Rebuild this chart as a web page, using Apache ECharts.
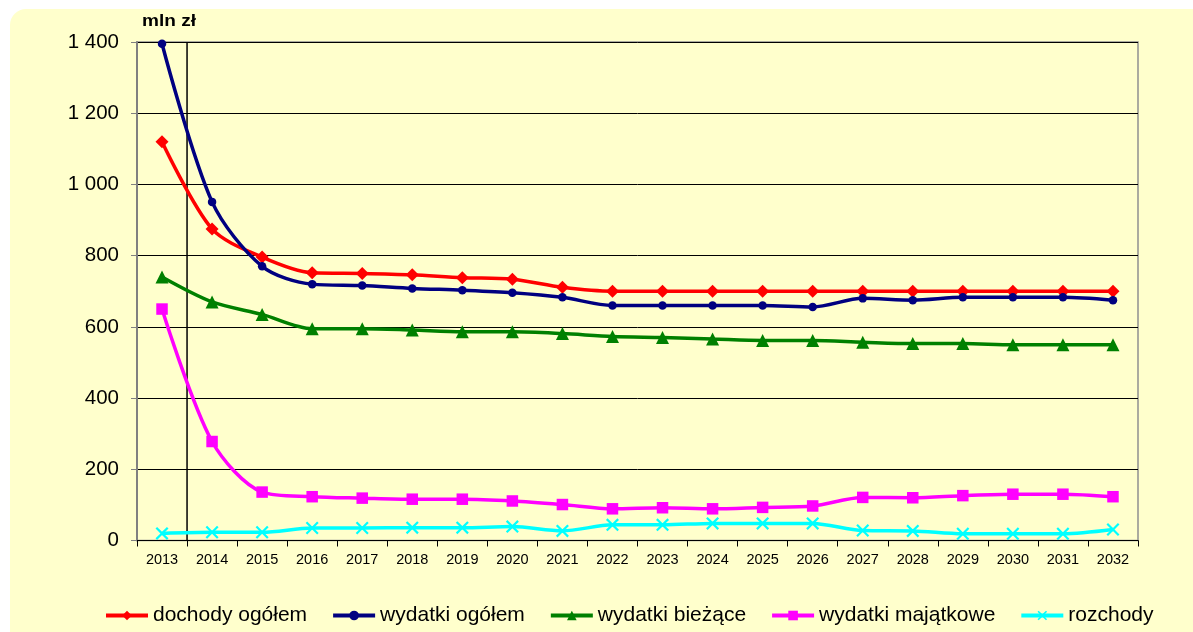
<!DOCTYPE html>
<html>
<head>
<meta charset="utf-8">
<script src="https://cdn.jsdelivr.net/npm/echarts@6/dist/echarts.min.js"></script>
<style>
html,body{margin:0;padding:0;background:#fff;}
#c{width:1193px;height:632px;}
</style>
</head>
<body>
<div id="c"></div>
<script>
const years = ['2013','2014','2015','2016','2017','2018','2019','2020','2021','2022','2023','2024','2025','2026','2027','2028','2029','2030','2031','2032'];
const dochodyOgolem = [1120, 875, 796, 752, 750, 746, 738, 734, 711, 700, 700, 700, 700, 700, 700, 700, 700, 700, 700, 700];
const wydatkiOgolem = [1395, 951, 770, 720, 716, 708, 703, 696, 683, 660, 660, 660, 660, 656, 680, 675, 683, 683, 683, 675];
const wydatkiBiezace = [740, 670, 635, 595, 595, 591, 586, 586, 581, 573, 570, 566, 562, 562, 557, 553, 553, 550, 550, 550];
const wydatkiMajatkowe = [650, 278, 136, 123, 119, 116, 116, 111, 101, 89, 92, 89, 93, 97, 121, 120, 126, 130, 130, 123];
const rozchody = [20, 23, 23, 35, 35, 36, 36, 39, 27, 44, 44, 48, 48, 48, 28, 27, 19, 19, 19, 31];
const yTicks = [0, 200, 400, 600, 800, 1000, 1200, 1400];
const markerLine = [[1, 0], [1, 1400]];

const crossPath = 'path://M0,1.2L1.2,0L5,3.8L8.8,0L10,1.2L6.2,5L10,8.8L8.8,10L5,6.2L1.2,10L0,8.8L3.8,5Z';
const FONT = '"Liberation Sans", Arial, sans-serif';

const chart = echarts.init(document.getElementById('c'));
function mk(name, data, color, symbol, size) {
  return {
    name: name, type: 'line', data: data, smooth: 0.3,
    symbol: symbol, symbolSize: size, showSymbol: true,
    lineStyle: {color: color, width: 3.5},
    itemStyle: {color: color},
    emphasis: {disabled: true},
    xAxisIndex: 0, yAxisIndex: 0
  };
}
chart.setOption({
  backgroundColor: '#ffffff',
  animation: false,
  graphic: [
    {type: 'rect', z: -10, silent: true, shape: {x: 10, y: 9, width: 1200, height: 640, r: 16}, style: {fill: '#FFFFCC'}},
    {type: 'text', left: 142, top: 13, style: {text: 'mln zł', font: 'bold 17px ' + FONT, fill: '#000'}, scaleX: 1.12}
  ],
  grid: {left: 137, right: 55, top: 42, bottom: 91.5, show: true, borderColor: '#909090', borderWidth: 1.5, backgroundColor: 'transparent'},
  legend: {
    data: ['dochody ogółem', 'wydatki ogółem', 'wydatki bieżące', 'wydatki majątkowe', 'rozchody'],
    top: 600, left: 99, itemWidth: 42, itemHeight: 12, itemGap: 24,
    lineStyle: {width: 4},
    textStyle: {fontSize: 21, color: '#000', fontFamily: FONT}
  },
  xAxis: [
    {
      type: 'category', data: years, boundaryGap: true,
      axisLine: {lineStyle: {color: '#000', width: 1}},
      axisTick: {show: true, length: 6, lineStyle: {color: '#000'}},
      axisLabel: {fontSize: 14.5, color: '#000', margin: 12, fontFamily: FONT, interval: 0},
      splitLine: {show: false}
    },
    {type: 'value', min: 0, max: 20, show: false}
  ],
  yAxis: {
    type: 'value', min: 0, max: 1400, interval: 200,
    axisLine: {show: true, lineStyle: {color: '#808080', width: 2}},
    axisTick: {show: true, length: 6, lineStyle: {color: '#808080'}},
    axisLabel: {fontSize: 20.5, color: '#000', margin: 18, fontFamily: FONT,
      formatter: function (v) { return yTicks.indexOf(v) >= 0 ? String(v).replace(/\B(?=(\d{3})+(?!\d))/g, ' ') : ''; }},
    splitLine: {show: true, lineStyle: {color: '#000', width: 1}}
  },
  series: [
    {name: 'separator', type: 'line', data: markerLine, xAxisIndex: 1, yAxisIndex: 0, symbol: 'none', silent: true,
      lineStyle: {color: '#000', width: 1.5}, z: 1},
    mk('dochody ogółem', dochodyOgolem, '#FF0000', 'diamond', 13),
    mk('wydatki ogółem', wydatkiOgolem, '#000080', 'circle', 8.5),
    mk('wydatki bieżące', wydatkiBiezace, '#008000', 'triangle', 13),
    mk('wydatki majątkowe', wydatkiMajatkowe, '#FF00FF', 'rect', 11.5),
    mk('rozchody', rozchody, '#00FFFF', crossPath, 13)
  ]
});
</script>
</body>
</html>
